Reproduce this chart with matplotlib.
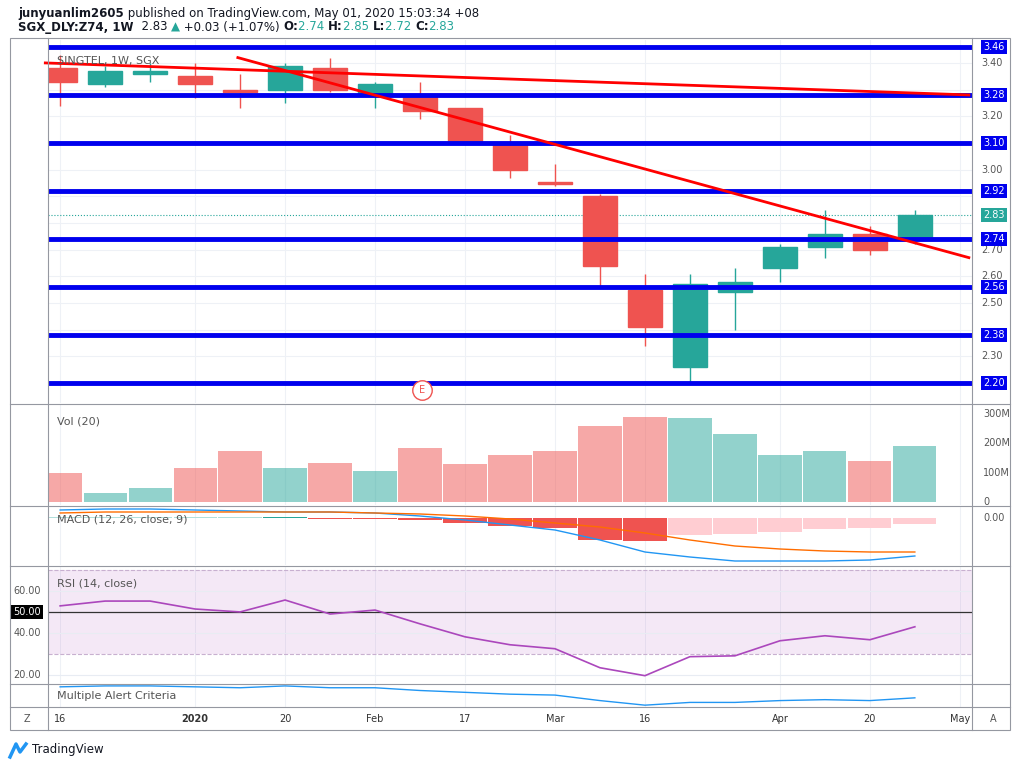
import numpy as np
import matplotlib.pyplot as plt
from matplotlib.patches import Rectangle

# weekly candles, Dec 16 2019 .. Apr 27 2020
opens  = [3.38, 3.32, 3.36, 3.35, 3.30, 3.30, 3.38, 3.28, 3.28, 3.23, 3.10, 2.955, 2.90, 2.55, 2.26, 2.54, 2.63, 2.71, 2.76, 2.74]
highs  = [3.43, 3.39, 3.40, 3.40, 3.36, 3.40, 3.42, 3.33, 3.33, 3.23, 3.13, 3.02, 2.91, 2.61, 2.61, 2.63, 2.72, 2.85, 2.79, 2.85]
lows   = [3.24, 3.31, 3.33, 3.27, 3.23, 3.25, 3.29, 3.23, 3.19, 3.10, 2.97, 2.94, 2.56, 2.34, 2.20, 2.40, 2.58, 2.67, 2.68, 2.72]
closes = [3.33, 3.37, 3.37, 3.32, 3.29, 3.39, 3.30, 3.32, 3.22, 3.10, 3.00, 2.945, 2.64, 2.41, 2.57, 2.58, 2.71, 2.76, 2.70, 2.83]
volume = [100, 30, 50, 115, 175, 115, 135, 105, 185, 130, 160, 175, 260, 290, 285, 230, 160, 175, 140, 190]
macd   = [0.016, 0.018, 0.018, 0.016, 0.014, 0.012, 0.012, 0.010, 0.004, -0.004, -0.014, -0.024, -0.044, -0.068, -0.078, -0.086, -0.086, -0.086, -0.084, -0.076]
signal = [0.010, 0.012, 0.012, 0.012, 0.012, 0.012, 0.012, 0.010, 0.008, 0.004, -0.002, -0.010, -0.018, -0.030, -0.044, -0.056, -0.062, -0.066, -0.068, -0.068]
hist   = [0.002, 0.002, 0.002, 0.002, 0.002, 0.003, -0.001, -0.002, -0.004, -0.010, -0.016, -0.020, -0.044, -0.046, -0.034, -0.032, -0.028, -0.022, -0.020, -0.012]
rsi    = [52.9, 55.2, 55.2, 51.4, 50.0, 55.7, 49.0, 50.9, 44.3, 38.1, 34.3, 32.4, 23.3, 19.5, 28.6, 29.0, 36.2, 38.6, 36.7, 42.9]
alert  = [21, 22, 22, 21, 20, 22, 20, 20, 17, 15, 13, 12, 6, 1, 4, 4, 6, 7, 6, 9]
levels = [3.46, 3.28, 3.10, 2.92, 2.74, 2.56, 2.38, 2.20]
last_price = 2.83
trend1 = [(-0.33, 3.40), (20.2, 3.28)]
trend2 = [(3.95, 3.42), (20.2, 2.67)]
xtick_pos = [0, 3, 5, 7, 9, 11, 13, 16, 18, 20]
xtick_lab = ['16', '2020', '20', 'Feb', '17', 'Mar', '16', 'Apr', '20', 'May']

UP, DN = '#26a69a', '#ef5350'
W, H = 1024, 768
fig = plt.figure(figsize=(10.24, 7.68), dpi=100)
renderer = fig.canvas.get_renderer()

def ax_px(x0, y0, x1, y1, **kw):
    a = fig.add_axes([x0 / W, 1 - y1 / H, (x1 - x0) / W, (y1 - y0) / H], **kw)
    for s in a.spines.values():
        s.set_visible(False)
    a.tick_params(left=False, bottom=False, labelleft=False, labelbottom=False)
    return a

def text_run(x0, y, parts):
    # place pieces of text one after another
    xx = x0
    for s, c, w in parts:
        t = fig.text(xx / W, 1 - y / H, s, fontsize=8.5, va='center', color=c, weight=w)
        xx += t.get_window_extent(renderer).width

XL, XR = 48, 972
xlim = (-0.27, 20.27)
n = len(opens)
x = np.arange(n)
cols = [UP if c >= o else DN for o, c in zip(opens, closes)]

def vgrid(a):
    for p in xtick_pos:
        a.axvline(p, color='#eef1f6', lw=0.8, zorder=0)

# header
K = '#131722'
text_run(18, 13, [('junyuanlim2605', K, 'bold'),
                  (' published on TradingView.com, May 01, 2020 15:03:34 +08', K, 'normal')])
text_run(18, 27, [('SGX_DLY:Z74, 1W', K, 'bold'), ('  2.83 ', K, 'normal'), ('\u25b2', UP, 'normal'),
                  (' +0.03 (+1.07%) ', K, 'normal'),
                  ('O:', K, 'bold'), ('2.74 ', UP, 'normal'), ('H:', K, 'bold'), ('2.85 ', UP, 'normal'),
                  ('L:', K, 'bold'), ('2.72 ', UP, 'normal'), ('C:', K, 'bold'), ('2.83', UP, 'normal')])

# price panel
ax = ax_px(XL, 40, XR, 403)
ax.set_xlim(*xlim)
ax.set_ylim(2.125, 3.486)
vgrid(ax)
for t in np.arange(2.30, 3.41, 0.10):
    ax.axhline(t, color='#eef1f6', lw=0.8, zorder=0)
    if min(abs(t - lv) for lv in levels + [last_price]) > 0.03:
        ax.text(1.01, t, f'{t:.2f}', transform=ax.get_yaxis_transform(), fontsize=7, va='center', color='#555')
for i in range(n):
    ax.vlines(x[i], lows[i], highs[i], color=cols[i], lw=1, zorder=2)
    b0, b1 = sorted([opens[i], closes[i]])
    ax.add_patch(Rectangle((x[i] - 0.37, b0), 0.74, max(b1 - b0, 0.004), color=cols[i], zorder=3))
for lv in levels:
    ax.axhline(lv, color='#0000ee', lw=3.5, zorder=4)
    ax.text(1.012, lv, f'{lv:.2f}', transform=ax.get_yaxis_transform(), fontsize=7, va='center', color='white',
            bbox=dict(boxstyle='square,pad=0.25', fc='#0000ee', ec='none'), zorder=6)
ax.axhline(last_price, color=UP, lw=0.8, ls=':', zorder=1)
ax.text(1.012, last_price, f'{last_price:.2f}', transform=ax.get_yaxis_transform(), fontsize=7, va='center',
        color='white', bbox=dict(boxstyle='square,pad=0.25', fc=UP, ec='none'), zorder=6)
for tr in (trend1, trend2):
    ax.plot([tr[0][0], tr[1][0]], [tr[0][1], tr[1][1]], color='#ff0000', lw=2, zorder=5, clip_on=False)
ax.text(0.01, 0.955, 'SINGTEL, 1W, SGX', transform=ax.transAxes, fontsize=8, va='top', color='#555', zorder=7)
ax.plot(8.05, 2.175, 'o', ms=14, mfc='white', mec='#ef5350', mew=1, zorder=6)
ax.text(8.05, 2.175, 'E', fontsize=7, ha='center', va='center', color='#ef5350', zorder=7)

# volume
av = ax_px(XL, 405, XR, 505)
av.set_xlim(*xlim)
av.set_ylim(-9, 330)
vgrid(av)
av.bar(x, volume, width=0.96, color=cols, alpha=0.5)
for v, l in [(0, '0'), (100, '100M'), (200, '200M'), (300, '300M')]:
    av.text(1.012, v, l, transform=av.get_yaxis_transform(), fontsize=7, va='center', color='#555')
av.text(0.01, 0.88, 'Vol (20)', transform=av.transAxes, fontsize=8, va='top', color='#555')

# macd
am = ax_px(XL, 507, XR, 565)
am.set_xlim(*xlim)
am.set_ylim(-0.094, 0.022)
vgrid(am)
hcol = []
for i, h in enumerate(hist):
    prev = hist[i - 1] if i else h
    if h >= 0:
        hcol.append(UP if h > prev else '#b2dfdb')
    else:
        hcol.append(DN if h <= prev else '#ffcdd2')
am.bar(x, hist, width=0.96, color=hcol)
am.plot(x, macd, color='#2196f3', lw=1)
am.plot(x, signal, color='#ff6d00', lw=1)
am.text(1.012, 0, '0.00', transform=am.get_yaxis_transform(), fontsize=7, va='center', color='#555')
am.text(0.01, 0.87, 'MACD (12, 26, close, 9)', transform=am.transAxes, fontsize=8, va='top', color='#555')

# rsi
ar = ax_px(XL, 567, XR, 683)
ar.set_xlim(*xlim)
ar.set_ylim(16, 71.5)
vgrid(ar)
ar.axhspan(30, 70, color='#9c27b0', alpha=0.1, lw=0)
for lv in (30, 70):
    ar.axhline(lv, color='#c8b0d0', lw=0.8, ls='--')
for lv in (20, 40, 60):
    ar.axhline(lv, color='#e8ecf3', lw=0.8)
ar.axhline(50, color='#333', lw=0.9)
ar.plot(x, rsi, color='#ab47bc', lw=1.2)
for lv in (20, 40, 60):
    ar.text(-0.008, lv, f'{lv:.2f}', transform=ar.get_yaxis_transform(), fontsize=7, va='center', ha='right', color='#555')
ar.text(-0.008, 50, '50.00', transform=ar.get_yaxis_transform(), fontsize=7, va='center', ha='right', color='white',
        bbox=dict(boxstyle='square,pad=0.25', fc='black', ec='none'))
ar.text(0.01, 0.9, 'RSI (14, close)', transform=ar.transAxes, fontsize=8, va='top', color='#555')

# alert
aa = ax_px(XL, 685, XR, 707)
aa.set_xlim(*xlim)
aa.set_ylim(-1, 23)
vgrid(aa)
aa.plot(x, alert, color='#2196f3', lw=1)
aa.text(0.01, 0.5, 'Multiple Alert Criteria', transform=aa.transAxes, fontsize=8, va='center', color='#555')

# time axis
at = ax_px(XL, 707, XR, 730)
at.set_xlim(*xlim)
at.set_ylim(0, 1)
for p, l in zip(xtick_pos, xtick_lab):
    at.text(p, 0.5, l, fontsize=7, ha='center', va='center', color='#333', weight='bold' if l == '2020' else 'normal')
fig.text(27 / W, 1 - 719 / H, 'Z', fontsize=7, ha='center', va='center', color='#555')
fig.text(993 / W, 1 - 719 / H, 'A', fontsize=7, ha='center', va='center', color='#555')

# frame lines
bk = fig.add_axes([0, 0, 1, 1], facecolor='none')
bk.set_xlim(0, W)
bk.set_ylim(H, 0)
bk.axis('off')
bk.add_patch(Rectangle((10, 38), 1000, 692, fill=False, ec='#9598a1', lw=0.8))
for yy in (404, 506, 566, 684, 707):
    bk.plot([10, 1010], [yy, yy], color='#9598a1', lw=0.8)
for xx in (XL, XR):
    bk.plot([xx, xx], [38, 730], color='#9598a1', lw=0.8)
bk.text(32, 750, 'TradingView', fontsize=8.5, va='center', color='#131722')
bk.plot([10, 16, 20, 26], [757, 744, 752, 744], color='#2196f3', lw=2.5)

fig.savefig('out.png', dpi=100)
